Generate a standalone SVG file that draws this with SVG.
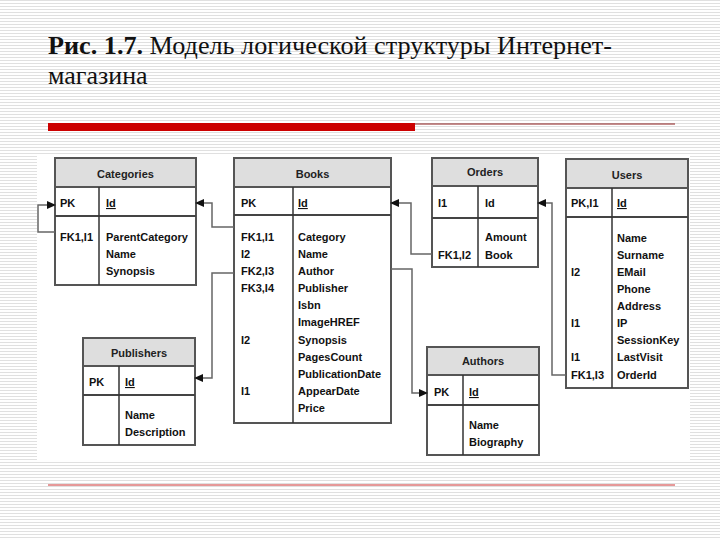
<svg xmlns="http://www.w3.org/2000/svg" width="720" height="540" viewBox="0 0 720 540">
  <defs>
    <pattern id="stripes" width="4" height="3" patternUnits="userSpaceOnUse">
      <rect width="4" height="3" fill="#ffffff"/>
      <rect y="0" width="4" height="1" fill="#e0e0e0"/>
    </pattern>
    <marker id="arr" markerWidth="9" markerHeight="8" refX="8" refY="4" orient="auto" markerUnits="userSpaceOnUse">
      <path d="M0,0 L9,4 L0,8 Z" fill="#111"/>
    </marker>
    <style>
      .box{fill:#fff;stroke:#555;stroke-width:2}
      .hdr{fill:#dedede;stroke:#555;stroke-width:2}
      .sep{stroke:#444;stroke-width:2}
      .col{stroke:#333;stroke-width:1.5}
      .t{font-family:"Liberation Sans",Arial,sans-serif;font-size:11px;font-weight:bold;fill:#111}
      .h{font-family:"Liberation Sans",Arial,sans-serif;font-size:11px;font-weight:bold;fill:#222;text-anchor:middle}
      .u{text-decoration:underline}
      .con{fill:none;stroke:#666;stroke-width:1.5;marker-end:url(#arr)}
      .title{font-family:"Liberation Serif","Times New Roman",serif;font-size:26px;fill:#111}
    </style>
  </defs>

  <rect width="720" height="540" fill="url(#stripes)"/>

  <g id="title">
    <text class="title" x="48" y="54" textLength="564" lengthAdjust="spacingAndGlyphs"><tspan font-weight="bold">Рис. 1.7.</tspan> Модель логической структуры Интернет-</text>
    <text class="title" x="48" y="84">магазина</text>
    <rect x="48" y="123" width="367" height="8" fill="#cc0000"/>
    <line x1="415" y1="124" x2="675" y2="124" stroke="#8b1a1a" stroke-width="1"/>
    <line x1="48" y1="485" x2="675" y2="485" stroke="#cc3333" stroke-width="1"/>
  </g>

  <rect x="37" y="155" width="653" height="305" fill="#ffffff"/>

  <g id="Categories">
    <rect class="box" x="55" y="158" width="141" height="127"/>
    <rect class="hdr" x="55" y="158" width="141" height="29"/>
    <line class="sep" x1="55" y1="216" x2="196" y2="216"/>
    <line class="col" x1="99" y1="187" x2="99" y2="285"/>
    <text class="h" x="125.5" y="178">Categories</text>
    <text class="t" x="60" y="207">PK</text>
    <text class="t u" x="106" y="207">Id</text>
    <text class="t" x="60" y="241">FK1,I1</text>
    <text class="t" x="106" y="241">ParentCategory</text>
    <text class="t" x="106" y="258">Name</text>
    <text class="t" x="106" y="275">Synopsis</text>
  </g>

  <g id="Books">
    <rect class="box" x="234" y="158" width="157" height="265"/>
    <rect class="hdr" x="234" y="158" width="157" height="29"/>
    <line class="sep" x1="234" y1="215" x2="391" y2="215"/>
    <line class="col" x1="293" y1="187" x2="293" y2="423"/>
    <text class="h" x="312.5" y="178">Books</text>
    <text class="t" x="241" y="207">PK</text>
    <text class="t u" x="298" y="207">Id</text>
    <text class="t" x="241" y="241">FK1,I1</text>
    <text class="t" x="241" y="258">I2</text>
    <text class="t" x="241" y="275">FK2,I3</text>
    <text class="t" x="241" y="292">FK3,I4</text>
    <text class="t" x="241" y="344">I2</text>
    <text class="t" x="241" y="395">I1</text>
    <text class="t" x="298" y="241">Category</text>
    <text class="t" x="298" y="258">Name</text>
    <text class="t" x="298" y="275">Author</text>
    <text class="t" x="298" y="292">Publisher</text>
    <text class="t" x="298" y="309">Isbn</text>
    <text class="t" x="298" y="326">ImageHREF</text>
    <text class="t" x="298" y="344">Synopsis</text>
    <text class="t" x="298" y="361">PagesCount</text>
    <text class="t" x="298" y="378">PublicationDate</text>
    <text class="t" x="298" y="395">AppearDate</text>
    <text class="t" x="298" y="412">Price</text>
  </g>

  <g id="Orders">
    <rect class="box" x="432" y="158" width="106" height="109"/>
    <rect class="hdr" x="432" y="158" width="106" height="28"/>
    <line class="sep" x1="432" y1="218" x2="538" y2="218"/>
    <line class="col" x1="478" y1="186" x2="478" y2="267"/>
    <text class="h" x="485" y="176">Orders</text>
    <text class="t" x="438" y="207">I1</text>
    <text class="t" x="485" y="207">Id</text>
    <text class="t" x="485" y="241">Amount</text>
    <text class="t" x="438" y="259">FK1,I2</text>
    <text class="t" x="485" y="259">Book</text>
  </g>

  <g id="Users">
    <rect class="box" x="566" y="159" width="122" height="229"/>
    <rect class="hdr" x="566" y="159" width="122" height="29"/>
    <line class="sep" x1="566" y1="217" x2="688" y2="217"/>
    <line class="col" x1="612" y1="188" x2="612" y2="388"/>
    <text class="h" x="627" y="179">Users</text>
    <text class="t" x="571" y="207">PK,I1</text>
    <text class="t u" x="617" y="207">Id</text>
    <text class="t" x="571" y="276">I2</text>
    <text class="t" x="571" y="327">I1</text>
    <text class="t" x="571" y="361">I1</text>
    <text class="t" x="571" y="379">FK1,I3</text>
    <text class="t" x="617" y="242">Name</text>
    <text class="t" x="617" y="259">Surname</text>
    <text class="t" x="617" y="276">EMail</text>
    <text class="t" x="617" y="293">Phone</text>
    <text class="t" x="617" y="310">Address</text>
    <text class="t" x="617" y="327">IP</text>
    <text class="t" x="617" y="344">SessionKey</text>
    <text class="t" x="617" y="361">LastVisit</text>
    <text class="t" x="617" y="379">OrderId</text>
  </g>

  <g id="Publishers">
    <rect class="box" x="83" y="338" width="112" height="107"/>
    <rect class="hdr" x="83" y="338" width="112" height="28"/>
    <line class="sep" x1="83" y1="395" x2="195" y2="395"/>
    <line class="col" x1="119" y1="366" x2="119" y2="445"/>
    <text class="h" x="139" y="357">Publishers</text>
    <text class="t" x="89" y="386">PK</text>
    <text class="t u" x="125" y="386">Id</text>
    <text class="t" x="125" y="419">Name</text>
    <text class="t" x="125" y="436">Description</text>
  </g>

  <g id="Authors">
    <rect class="box" x="427" y="347" width="112" height="108"/>
    <rect class="hdr" x="427" y="347" width="112" height="28"/>
    <line class="sep" x1="427" y1="405" x2="539" y2="405"/>
    <line class="col" x1="463" y1="375" x2="463" y2="455"/>
    <text class="h" x="483" y="365">Authors</text>
    <text class="t" x="434" y="396">PK</text>
    <text class="t u" x="469" y="396">Id</text>
    <text class="t" x="469" y="429">Name</text>
    <text class="t" x="469" y="446">Biography</text>
  </g>

  <g id="connectors">
    <path class="con" d="M55,232 H38 V205 H55"/>
    <path class="con" d="M234,227 H212 V203 H196"/>
    <path class="con" d="M234,273 H212 V378 H195"/>
    <path class="con" d="M432,254 H411 V203 H391"/>
    <path class="con" d="M391,269 H412 V393 H427"/>
    <path class="con" d="M566,375 H552 V203 H538"/>
  </g>
</svg>
